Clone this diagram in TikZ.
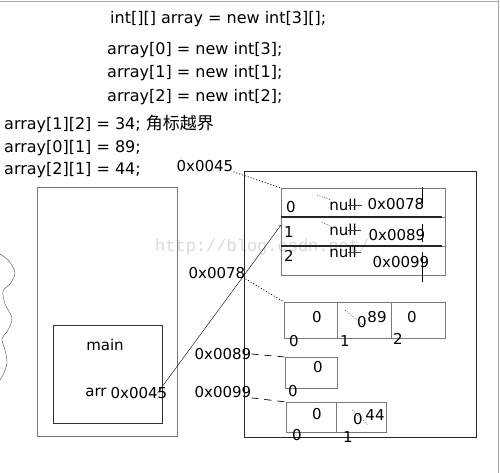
\documentclass[tikz,border=0pt]{standalone}
\usepackage{fontspec}
\setmainfont{DejaVu Sans}
\setmonofont{Liberation Mono}
\newfontfamily\cjk{Noto Sans CJK SC}
\usetikzlibrary{positioning}
\definecolor{linegray}{RGB}{120,120,120}
\definecolor{markgray}{RGB}{218,218,218}

\begin{document}
\begin{tikzpicture}[
    x=1pt, y=-1pt,
    code/.style={font=\fontsize{16}{19}\selectfont, inner sep=0pt, anchor=base west},
    lbl/.style={font=\fontsize{15}{18}\selectfont, inner sep=0pt},
    frame/.style={draw=linegray, line width=0.7pt, inner sep=0pt, outer sep=0pt},
    cell/.style={draw=linegray, line width=0.7pt, inner sep=0pt, outer sep=0pt, minimum height=36pt},
    row/.style={draw=linegray, line width=0.7pt, inner sep=0pt, outer sep=0pt,
        minimum width=164pt, minimum height=29pt},
    sep/.style={line width=1.4pt, black!85},
    link/.style={line width=0.8pt, dash pattern=on 1pt off 2pt},
    dlink/.style={line width=0.7pt, dash pattern=on 7pt off 6pt},
    ptr/.style={->, thin},
    strike/.style={line width=0.6pt, black!75},
    scrib/.style={line width=0.6pt, dash pattern=on 1pt off 1.5pt, black!70}
  ]
  \fill[white] (0,0) rectangle (500,473);
  \useasboundingbox (0,0) rectangle (500,473);
  \draw[black!35] (0,1) -- (498,1);
  \draw[black!35] (498,0) -- (498,473);

  \node[font=\ttfamily\fontsize{17}{20}\selectfont, text=markgray, anchor=west, inner sep=0pt]
    (mark) at (155,247) {http://blog.csdn.net/};

  % code lines
  \node[code] (decl)  at (110,24) {int[][] array = new int[3][];};
  \node[code] (init0) at (107,55) {array[0] = new int[3];};
  \node[code] (init1) at ([yshift=-23pt]init0.base west) {array[1] = new int[1];};
  \node[code] (init2) at ([yshift=-24pt]init1.base west) {array[2] = new int[2];};
  \node[code] (set0)  at (4,130) {array[1][2] = 34; {\cjk\fontsize{17}{19}\selectfont 角标越界}};
  \node[code] (set1)  at ([yshift=-23pt]set0.base west) {array[0][1] = 89;};
  \node[code] (set2)  at ([yshift=-22pt]set1.base west) {array[2][1] = 44;};

  % stack
  \draw[black!70] plot[smooth] coordinates {(0,254) (9,261) (15,273) (10,284) (3,291)
    (5,304) (12,318) (8,330) (2,339) (5,350) (7,363) (3,375) (0,380)};
  \node[frame, minimum width=140pt, minimum height=249pt] (stack) at (107,311.5) {};
  \node[frame, draw=black!80, minimum width=109pt, minimum height=98pt] (mainf) at (107.5,374) {};
  \node[lbl] (mainlbl) at (105,345) {main};
  \node[lbl] (arrlbl)  at (96,392) {arr};
  \node[lbl] (p45)     at (139,393) {0x0045};

  % heap
  \node[frame, draw=black!85, line width=0.9pt, minimum width=232pt, minimum height=266pt]
    (heap) at (360,304) {};

  \node[row] (row0) at (363,202.5) {};
  \node[row, below=0pt of row0] (row1) {};
  \node[row, below=0pt of row1] (row2) {};
  \draw[sep] (row0.south west) -- ([xshift=-3pt]row0.south east);
  \draw[sep] (row1.south west) -- ([xshift=-3pt]row1.south east);

  \node[lbl] (i0) at (291,207) {0};
  \node[lbl] (i1) at (289,232) {1};
  \node[lbl] (i2) at (289,256) {2};
  \node[lbl] (n0) at (343,205) {null};
  \node[lbl] (n1) at (343,230) {null};
  \node[lbl] (n2) at (343,252) {null};
  \node[lbl] (r78) at (396,204) {0x0078};
  \node[lbl] (r89) at (397,235) {0x0089};
  \node[lbl] (r99) at (401,262) {0x0099};
  \draw[strike] ([xshift=5pt]n0.center) -- ([xshift=5pt]n0.east);
  \draw[strike] ([xshift=5pt]n1.center) -- ([xshift=4pt]n1.east);
  \draw[strike] ([xshift=5pt]n2.center) -- ([xshift=4pt]n2.east);
  \draw[scrib] (317,195) -- (331,200);
  \draw[scrib] (322,222) -- (330,226);
  \draw[thin] (422,187) -- (422,204);
  \draw[thin] (422,224) -- (422,242);
  \draw[thin] (422,252) -- (422,282);

  % array[0]
  \node[cell, minimum width=53.7pt] (a0c0) at (310.85,320) {};
  \node[cell, minimum width=53.7pt, right=0pt of a0c0] (a0c1) {};
  \node[cell, minimum width=53.7pt, right=0pt of a0c1] (a0c2) {};
  \node[lbl] (v00) at (317,317) {0};
  \node[lbl] (z01) at (362,322) {0};
  \node[lbl] (v01) at (377,317) {89};
  \draw[scrib] (345,310) -- (363,325);
  \node[lbl] (v02) at (412,317) {0};
  \node[lbl] (k00) at (294,341) {0};
  \node[lbl] (k01) at (345,341) {1};
  \node[lbl] (k02) at (398,339) {2};

  % array[1]
  \node[cell, minimum width=52pt, minimum height=31pt] (a1c0) at (311,372.5) {};
  \node[lbl] (v10) at (318,367) {0};
  \node[lbl] (k10) at (293,391) {0};

  % array[2]
  \node[cell, minimum width=50pt, minimum height=30pt] (a2c0) at (311,417) {};
  \node[cell, minimum width=50pt, minimum height=30pt, right=0pt of a2c0] (a2c1) {};
  \node[lbl] (v20) at (317,414) {0};
  \node[lbl] (z21) at (358,419) {0};
  \node[lbl] (v21) at (375,415) {44};
  \draw[scrib] (352,410) -- (368,425);
  \node[lbl] (k20) at (297,435) {0};
  \node[lbl] (k21) at (348,437) {1};

  % addresses
  \node[lbl] (h45) at (205,166) {0x0045};
  \node[lbl] (h78) at (217,273) {0x0078};
  \node[lbl] (h89) at (223,354) {0x0089};
  \node[lbl] (h99) at (223,392) {0x0099};
  \draw[link]  (h45.south east) -- (row0.north west);
  \draw[link]  (h78.south east) -- (a0c0.north west);
  \draw[dlink] (h89.east) -- (a1c0.north west);
  \draw[dlink] (h99.south east) -- (a2c0.north west);
  \draw[ptr] ([xshift=-10pt]p45.east) -- ([yshift=-8pt]row1.north west);
\end{tikzpicture}
\end{document}
